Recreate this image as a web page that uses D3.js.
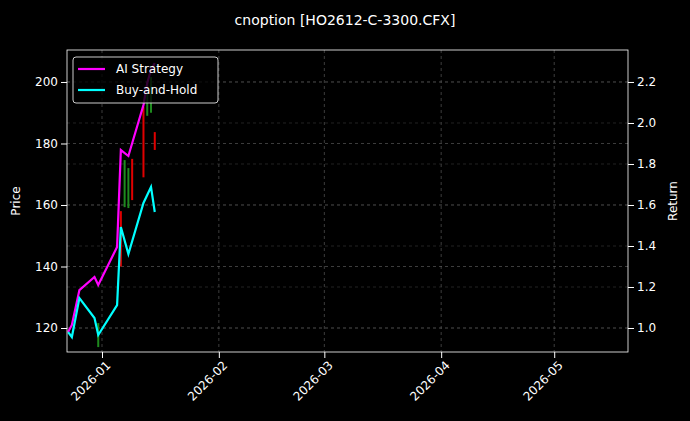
<!DOCTYPE html>
<html>
<head>
<meta charset="utf-8">
<script src="https://cdn.jsdelivr.net/npm/d3@7"></script>
<style>
body { margin: 0; background: #000; }
text { font-family: "DejaVu Sans", sans-serif; fill: #fff; }
</style>
</head>
<body>
<svg id="chart" width="690" height="421"></svg>
<script>
const dates = ["2025-12-23", "2025-12-24", "2025-12-26", "2025-12-30", "2025-12-31", "2026-01-05",
               "2026-01-06", "2026-01-08", "2026-01-12", "2026-01-13", "2026-01-14", "2026-01-15"];
const strategy = [0.98, 1.015, 1.185, 1.249, 1.21, 1.395, 1.868, 1.839, 2.088, 2.195, 2.259, 2.293];
const buyHold = [0.98, 0.956, 1.146, 1.049, 0.966, 1.112, 1.493, 1.361, 1.61, 1.649, 1.688, 1.566];

const candleDates = ["2025-12-31", "2026-01-06", "2026-01-07", "2026-01-08", "2026-01-09",
                     "2026-01-12", "2026-01-13", "2026-01-14", "2026-01-15"];
const candleOpen  = [113.8, 158, 159.3, 159, 175, 192, 189, 190, 183.7];
const candleClose = [121.6, 140, 174.6, 172, 161.6, 169, 199.7, 201.6, 177.9];

const priceTicks = [120, 140, 160, 180, 200];
const returnTicks = [1.0, 1.2, 1.4, 1.6, 1.8, 2.0, 2.2];
const monthTicks = ["2026-01-01", "2026-02-01", "2026-03-01", "2026-04-01", "2026-05-01"];

const parse = d3.utcParse("%Y-%m-%d");
const margin = { top: 50, right: 62, bottom: 69, left: 67 };
const width = 690 - margin.left - margin.right;
const height = 421 - margin.top - margin.bottom;

const svg = d3.select("#chart");
svg.append("rect").attr("width", 690).attr("height", 421).attr("fill", "#000");
const g = svg.append("g").attr("transform", "translate(" + margin.left + "," + margin.top + ")");

const x = d3.scaleUtc()
    .domain([new Date(Date.UTC(2025, 11, 22, 17)), new Date(Date.UTC(2026, 4, 20, 14))])
    .range([0, width]);
const yP = d3.scaleLinear().domain([112.2, 210.4]).range([height, 0]);
const yR = d3.scaleLinear().domain([0.883, 2.356]).range([height, 0]);

// grid
g.selectAll(".gx").data(monthTicks).enter().append("line")
    .attr("x1", d => x(parse(d))).attr("x2", d => x(parse(d)))
    .attr("y1", 0).attr("y2", height)
    .attr("stroke", "#666").attr("stroke-width", 0.6).attr("stroke-dasharray", "3,3");
g.selectAll(".gy").data(priceTicks).enter().append("line")
    .attr("x1", 0).attr("x2", width)
    .attr("y1", d => yP(d)).attr("y2", d => yP(d))
    .attr("stroke", "#666").attr("stroke-width", 0.6).attr("stroke-dasharray", "3,3");
g.selectAll(".gr").data(returnTicks).enter().append("line")
    .attr("x1", 0).attr("x2", width)
    .attr("y1", d => yR(d)).attr("y2", d => yR(d))
    .attr("stroke", "#444").attr("stroke-width", 0.5).attr("stroke-dasharray", "3,3");

// candles
const candles = candleDates.map((d, i) => ({ date: parse(d), o: candleOpen[i], c: candleClose[i] }));
g.selectAll(".candle").data(candles).enter().append("rect")
    .attr("x", d => x(d.date) - 1)
    .attr("width", 2)
    .attr("y", d => yP(Math.max(d.o, d.c)))
    .attr("height", d => Math.abs(yP(d.o) - yP(d.c)))
    .attr("fill", d => d.c >= d.o ? "#1e8a1e" : "#e00000");

// lines
const line = d3.line().x(d => x(d.date)).y(d => yR(d.v));
const sData = dates.map((d, i) => ({ date: parse(d), v: strategy[i] }));
const bData = dates.map((d, i) => ({ date: parse(d), v: buyHold[i] }));
g.append("path").datum(sData).attr("d", line).attr("fill", "none")
    .attr("stroke", "#ff00ff").attr("stroke-width", 2.2);
g.append("path").datum(bData).attr("d", line).attr("fill", "none")
    .attr("stroke", "#00ffff").attr("stroke-width", 2.2);

// frame
g.append("rect").attr("width", width).attr("height", height)
    .attr("fill", "none").attr("stroke", "#fff").attr("stroke-width", 0.8);

// axes
const xAxis = g.append("g").attr("transform", "translate(0," + height + ")")
    .call(d3.axisBottom(x).tickValues(monthTicks.map(parse)).tickFormat(d3.utcFormat("%Y-%m")).tickSizeOuter(0));
xAxis.selectAll("text").attr("transform", "rotate(-45)").style("text-anchor", "end")
    .attr("dx", "-0.3em").attr("dy", "0.6em").style("font-size", "12px");

const yAxisL = g.append("g").call(d3.axisLeft(yP).tickValues(priceTicks).tickSizeOuter(0));
yAxisL.selectAll("text").style("font-size", "12px");
const yAxisR = g.append("g").attr("transform", "translate(" + width + ",0)")
    .call(d3.axisRight(yR).tickValues(returnTicks).tickFormat(d3.format(".1f")).tickSizeOuter(0));
yAxisR.selectAll("text").style("font-size", "12px");
svg.selectAll(".domain").remove();
svg.selectAll(".tick line").attr("stroke", "#fff");
svg.selectAll(".tick text").attr("fill", "#fff");

svg.append("text").attr("transform", "translate(20," + (margin.top + height / 2) + ") rotate(-90)")
    .attr("text-anchor", "middle").style("font-size", "12px").text("Price");
svg.append("text").attr("transform", "translate(677," + (margin.top + height / 2) + ") rotate(-90)")
    .attr("text-anchor", "middle").style("font-size", "12px").text("Return");
svg.append("text").attr("x", 345).attr("y", 25).attr("text-anchor", "middle")
    .style("font-size", "14px").text("cnoption [HO2612-C-3300.CFX]");

// legend
const legend = g.append("g").attr("transform", "translate(6,7)");
legend.append("rect").attr("width", 145).attr("height", 46).attr("rx", 3)
    .attr("fill", "#000").attr("fill-opacity", 0.8).attr("stroke", "#ccc");
const items = [["AI Strategy", "#ff00ff"], ["Buy-and-Hold", "#00ffff"]];
items.forEach((it, i) => {
    legend.append("line").attr("x1", 5).attr("x2", 32).attr("y1", 12 + i * 21).attr("y2", 12 + i * 21)
        .attr("stroke", it[1]).attr("stroke-width", 2.2);
    legend.append("text").attr("x", 43).attr("y", 16 + i * 21).style("font-size", "12px").text(it[0]);
});
</script>
</body>
</html>
